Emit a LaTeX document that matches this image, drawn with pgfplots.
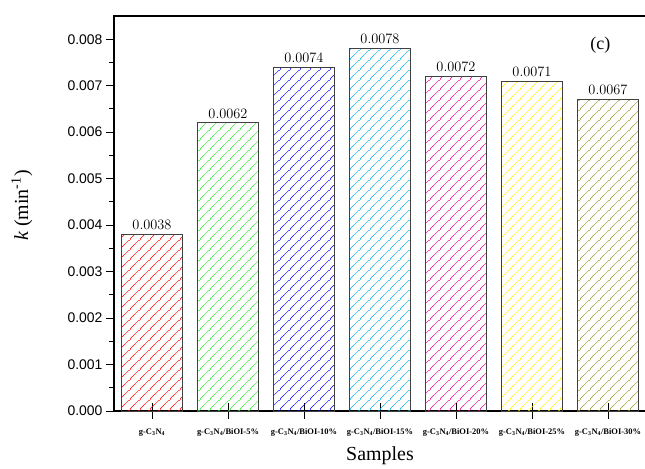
\documentclass[border=0pt]{standalone}
\usepackage{fontspec}
\setmainfont{Liberation Serif}
\newfontfamily\arialf{Liberation Sans}
\usepackage{pgfplots}
\pgfplotsset{compat=1.18}
\usetikzlibrary{patterns}
\definecolor{cgreen}{RGB}{40,235,40}
\definecolor{colive}{RGB}{150,150,40}
\definecolor{cyellow}{RGB}{255,240,0}
\newcommand{\hatch}[2]{%
\pgfdeclarepatterninherentlycolored{#1}{\pgfqpoint{0bp}{0bp}}{\pgfqpoint{10bp}{10bp}}{\pgfqpoint{10bp}{10bp}}{%
  \pgfsetcolor{#2}\pgfsetlinewidth{0.45bp}%
  \pgfpathmoveto{\pgfqpoint{-1bp}{-1bp}}\pgfpathlineto{\pgfqpoint{11bp}{11bp}}%
  \pgfpathmoveto{\pgfqpoint{-1bp}{9bp}}\pgfpathlineto{\pgfqpoint{1bp}{11bp}}%
  \pgfpathmoveto{\pgfqpoint{9bp}{-1bp}}\pgfpathlineto{\pgfqpoint{11bp}{1bp}}%
  \pgfusepath{stroke}}}
\hatch{hred}{red}
\hatch{hgreen}{cgreen}
\hatch{hblue}{blue}
\hatch{hcyan}{cyan}
\hatch{hmagenta}{magenta}
\hatch{hyellow}{cyellow}
\hatch{holive}{colive}
\begin{document}
\begin{tikzpicture}
\begin{axis}[
  at={(0,0)}, anchor=south west,
  scale only axis, width=532bp, height=395bp,
  xmin=-0.5, xmax=6.5, ymin=0, ymax=0.0085,
  xtick=\empty,
  extra x ticks={0,1,2,3,4,5,6},
  extra x tick labels={g-C\textsubscript{3}N\textsubscript{4},
    g-C\textsubscript{3}N\textsubscript{4}/BiOI-5\%,
    g-C\textsubscript{3}N\textsubscript{4}/BiOI-10\%,
    g-C\textsubscript{3}N\textsubscript{4}/BiOI-15\%,
    g-C\textsubscript{3}N\textsubscript{4}/BiOI-20\%,
    g-C\textsubscript{3}N\textsubscript{4}/BiOI-25\%,
    g-C\textsubscript{3}N\textsubscript{4}/BiOI-30\%},
  extra x tick style={major tick length=16bp, tick align=center,
    tick style={black, line width=1pt}},
  x tick label style={font=\fontsize{8.5}{9}\selectfont\bfseries, yshift=-6bp},
  ytick={0,0.001,0.002,0.003,0.004,0.005,0.006,0.007,0.008},
  minor y tick num=1,
  scaled y ticks=false,
  yticklabel style={font=\arialf\fontsize{14}{16}\selectfont,
    /pgf/number format/.cd, fixed, fixed zerofill, precision=3, assume math mode=true},
  xtick pos=bottom, ytick pos=left,
  ytick align=outside,
  major tick length=8bp, minor tick length=5bp,
  tick style={black, line width=1pt},
  axis line style={line width=1.1pt},
  every axis x label/.style={at={(axis description cs:0.5,0)}, anchor=center, yshift=-45bp, font=\fontsize{20}{22}\selectfont},
  every axis y label/.style={at={(axis description cs:-0.173,0.52)}, rotate=90, anchor=center, font=\fontsize{20}{22}\selectfont},
  xlabel={Samples},
  ylabel={\textit{k} (min\textsuperscript{-1})},
  nodes near coords={\pgfmathprintnumber[fixed,fixed zerofill,precision=4]{\pgfplotspointmeta}},
  every node near coord/.append style={font=\fontsize{14}{16}\selectfont, black, yshift=1bp},
  clip=false,
]
\addplot[ybar, bar width=0.8, draw=black!75, line width=0.8pt, pattern=hred] coordinates {(0,0.0038)};
\addplot[ybar, bar width=0.8, draw=black!75, line width=0.8pt, pattern=hgreen] coordinates {(1,0.0062)};
\addplot[ybar, bar width=0.8, draw=black!75, line width=0.8pt, pattern=hblue] coordinates {(2,0.0074)};
\addplot[ybar, bar width=0.8, draw=black!75, line width=0.8pt, pattern=hcyan] coordinates {(3,0.0078)};
\addplot[ybar, bar width=0.8, draw=black!75, line width=0.8pt, pattern=hmagenta] coordinates {(4,0.0072)};
\addplot[ybar, bar width=0.8, draw=black!75, line width=0.8pt, pattern=hyellow] coordinates {(5,0.0071)};
\addplot[ybar, bar width=0.8, draw=black!75, line width=0.8pt, pattern=holive] coordinates {(6,0.0067)};
\node[font=\fontsize{18}{20}\selectfont] at (axis cs:5.9,0.00788) {(c)};
\end{axis}
\pgfresetboundingbox
\path[use as bounding box] (-114bp,-58bp) rectangle (531bp,411bp);
\end{tikzpicture}
\end{document}
